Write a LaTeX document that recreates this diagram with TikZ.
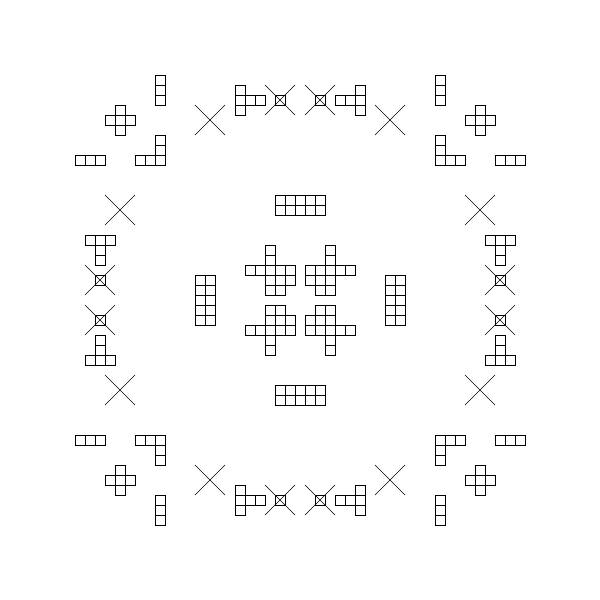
\documentclass[tikz,border=0pt]{standalone}
\begin{document}
\begin{tikzpicture}[x=.25cm,y=.25cm,line width=.7pt,
  cellule/.style={draw=black},
  croix/.style={line width=.45pt}]
\useasboundingbox (-30,-30) rectangle (30,30);
% Les quatre quarts se deduisent du quart en haut a gauche par symetrie.
\foreach \sx in {1,-1}
  \foreach \sy in {1,-1}
  {
  \begin{scope}[xscale=\sx,yscale=\sy]
  % Pieces du coin : barres, croix grecque et equerre.
  \foreach \i/\j in {-14/22,-14/21,-14/20,-18/19,-19/18,-18/18,-17/18,-18/17,
      -22/14,-21/14,-20/14,-16/14,-15/14,-14/14,-14/15,-14/16}
    \draw[cellule] (\i-.5,\j-.5) rectangle ++(1,1);
  % Les deux T du bord et les cases marquees.
  \foreach \i/\j in {-6/21,-6/20,-6/19,-5/20,-4/20,-21/6,-20/6,-19/6,-20/5,-20/4,
      -2/20,-20/2}
    \draw[cellule] (\i-.5,\j-.5) rectangle ++(1,1);
  % Piece centrale.
  \foreach \i/\j in {-3/5,-3/4,-5/3,-4/3,-3/3,-2/3,-1/3,-3/2,-2/2,-1/2,-3/1,-2/1}
    \draw[cellule] (\i-.5,\j-.5) rectangle ++(1,1);
  % Les croix, seules ou sur une case.
  \foreach \i/\j in {-9/18,-18/9,-2/20,-20/2}
    \draw[croix] (\i-1.5,\j-1.5) -- ++(3,3) (\i-1.5,\j+1.5) -- ++(3,-3);
  \end{scope}
  }
% Les quatre rectangles 2x5 autour du centre.
\foreach \a in {0,90,180,270}
  \foreach \i in {-10,-9}
    \foreach \j in {-2,...,2}
      \draw[cellule,rotate=\a] (\i-.5,\j-.5) rectangle ++(1,1);
\end{tikzpicture}
\end{document}
